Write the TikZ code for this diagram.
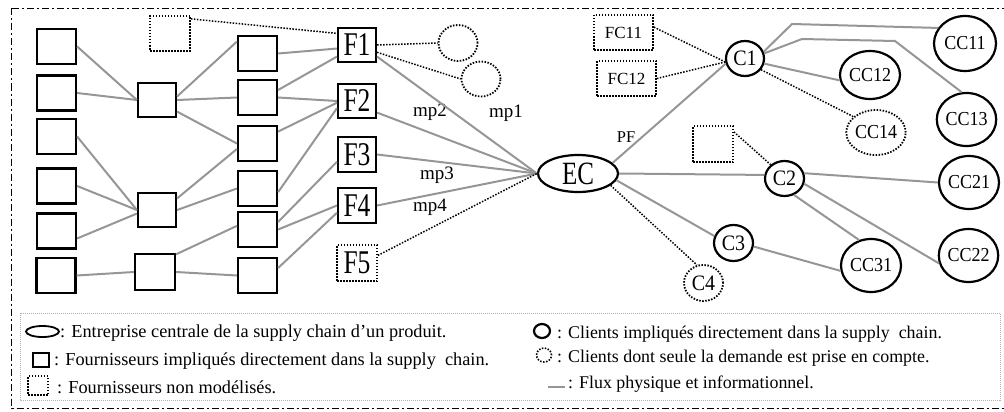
\documentclass[tikz,border=0pt]{standalone}
\usepackage{fontspec}
\setmainfont{Liberation Serif}
\usepackage{graphicx}
\usetikzlibrary{shapes.geometric}
\definecolor{fluxgray}{RGB}{150,150,150}
\newcommand\vst[2]{\scalebox{1}[#1]{#2}}
\begin{document}
\begin{tikzpicture}[x=1pt,y=-1pt,
  sq/.style={draw, rectangle, line width=2.2pt, inner sep=0pt, minimum width=39pt, minimum height=35pt},
  dsq/.style={draw, rectangle, line width=1.8pt, dash pattern=on 1.5pt off 1.5pt, inner sep=0pt, minimum width=40pt, minimum height=35pt},
  ell/.style={draw, ellipse, line width=2.2pt, inner sep=0pt},
  dell/.style={draw, ellipse, line width=1.8pt, dash pattern=on 1.5pt off 1.5pt, inner sep=0pt},
  flux/.style={draw=fluxgray, line width=2pt},
  dline/.style={draw=black, line width=1.5pt, dash pattern=on 1.5pt off 1.5pt},
  ffont/.style={font=\fontsize{25.5}{28}\selectfont},
  cfont/.style={font=\fontsize{20}{22}\selectfont},
  ccfont/.style={font=\fontsize{18}{20}\selectfont},
  fcfont/.style={font=\fontsize{17}{19}\selectfont},
  mpfont/.style={font=\fontsize{19}{21}\selectfont, inner sep=0pt},
  lgl/.style={font=\fontsize{18.3}{20}\selectfont, inner sep=0pt, anchor=base west},
  lgr/.style={font=\fontsize{17.9}{20}\selectfont, inner sep=0pt, anchor=base west}
]
\useasboundingbox (0,0) rectangle (1004,412);
% outer frame
\draw[line width=1.8pt, dash pattern=on 7pt off 3pt on 2pt off 3pt] (11.5,8.5) rectangle (1010,408.5);
% legend frame
\draw[gray!60, line width=0.8pt, dash pattern=on 1pt off 1pt] (20,313) rectangle (1000,400);

% left network
\node[sq] (L1) at (56.5,46.5) {};
\node[sq] (L2) at (56.5,93) {};
\node[sq] (L3) at (56.5,136.5) {};
\node[sq] (L4) at (56.5,186) {};
\node[sq] (L5) at (56.5,231) {};
\node[sq] (L6) at (56,275.5) {};
\node[sq, minimum width=38pt, minimum height=34pt] (m1) at (157,100) {};
\node[sq, minimum width=38pt, minimum height=34pt] (m2) at (157,210) {};
\node[sq, minimum width=40pt, minimum height=36pt] (m3) at (155,272) {};
\node[sq] (r1) at (257.5,53.5) {};
\node[sq] (r2) at (257.5,97.5) {};
\node[sq] (r3) at (257.5,143.5) {};
\node[sq] (r4) at (257.5,188.5) {};
\node[sq] (r5) at (257.5,229.5) {};
\node[sq] (r6) at (257.5,275.5) {};
\node[dsq] (T) at (170,33.5) {};

% F suppliers
\node[sq, ffont, minimum width=38pt, minimum height=34pt] (F1) at (357,45) {\vst{1.3}{F1}};
\node[sq, ffont, minimum width=38pt, minimum height=34pt] (F2) at (357,101) {\vst{1.3}{F2}};
\node[sq, ffont, minimum width=38pt, minimum height=35pt] (F3) at (357,154.5) {\vst{1.3}{F3}};
\node[sq, ffont, minimum width=38pt, minimum height=35pt] (F4) at (357,205.5) {\vst{1.3}{F4}};
\node[dsq, ffont, minimum width=40pt, minimum height=36pt] (F5) at (357,263) {\vst{1.3}{F5}};
\node[dell, minimum width=39pt, minimum height=36pt] (D1) at (458,43) {};
\node[dell, minimum width=39pt, minimum height=35pt] (D2) at (481,79) {};

% central
\node[ell, font=\fontsize{25}{28}\selectfont, minimum width=80pt, minimum height=37pt] (EC) at (578,173.5) {\vst{1.3}{EC}};

% right side
\node[dsq, fcfont, minimum width=59pt, minimum height=35pt] (FC11) at (623.5,32.5) {FC11};
\node[dsq, fcfont, minimum width=59pt, minimum height=35pt] (FC12) at (626.5,78.5) {FC12};
\node[dsq, minimum width=40pt, minimum height=36pt] (S) at (713,144) {};
\node[ell, cfont, minimum width=38pt, minimum height=35pt] (C1) at (745,58.5) {\vst{1.1}{C1}};
\node[ell, cfont, minimum width=39pt, minimum height=35pt] (C2) at (784.5,178.5) {\vst{1.1}{C2}};
\node[ell, cfont, minimum width=39pt, minimum height=36pt] (C3) at (733.5,243) {\vst{1.1}{C3}};
\node[dell, cfont, minimum width=39pt, minimum height=36pt] (C4) at (703.5,283) {\vst{1.1}{C4}};
\node[ell, ccfont, minimum width=62pt, minimum height=55pt] (CC11) at (965,43.5) {\vst{1.1}{CC11}};
\node[ell, ccfont, minimum width=60pt, minimum height=48pt] (CC12) at (870,75) {\vst{1.1}{CC12}};
\node[ell, ccfont, minimum width=59pt, minimum height=53pt] (CC13) at (966.5,119.5) {\vst{1.1}{CC13}};
\node[dell, ccfont, minimum width=50pt, minimum height=45pt] (CC14) at (876,132.5) {\vst{1.1}{CC14}};
\node[ell, ccfont, minimum width=60pt, minimum height=53pt] (CC21) at (969,182.5) {\vst{1.1}{CC21}};
\node[ell, ccfont, minimum width=60pt, minimum height=53pt] (CC31) at (871,265.5) {\vst{1.1}{CC31}};
\node[ell, ccfont, minimum width=59pt, minimum height=53pt] (CC22) at (968.5,255.5) {\vst{1.1}{CC22}};

% labels
\node[mpfont] (mp2) at (430,112) {mp2};
\node[mpfont] (mp1) at (506,113) {mp1};
\node[mpfont] (mp3) at (437,175) {mp3};
\node[mpfont] (mp4) at (430,207) {mp4};
\node[font=\fontsize{16.5}{18}\selectfont, inner sep=0pt] (PF) at (626,137) {PF};

% left network connectors
\draw[flux] (L1.east) -- (m1.west);
\draw[flux] (L2.east) -- (m1.west);
\draw[flux] (m1.10) -- (r1.150);
\draw[flux] (m1.east) -- (r2.west);
\draw[flux] (m1.-30) -- (r3.west);
\draw[flux] (L3.east) -- (m2.west);
\draw[flux] (L4.east) -- (m2.west);
\draw[flux] (L5.-20) -- (m2.-170);
\draw[flux] (m2.30) -- (r3.-165);
\draw[flux] (m2.east) -- (r4.west);
\draw[flux] (m3.40) -- (r5.170);
\draw[flux] (L6.east) -- (m3.west);
\draw[flux] (m3.east) -- (r6.west);
\draw[flux] (r1.east) -- (F1.-170);
\draw[flux] (r2.20) -- (F1.-150);
\draw[flux] (r2.east) -- (F2.west);
\draw[flux] (r3.30) -- (F2.-175);
\draw[flux] (r4.-10) -- (F2.-160);
\draw[flux] (r5.20) -- (F3.-160);
\draw[flux] (r5.east) -- (F4.west);
\draw[flux] (r6.20) -- (F4.-160);
\draw[dline] (T.35) -- (F1.150);

% F to EC
\draw[dline] (F1.east) -- (D1.west);
\draw[dline] (F1.-20) -- (D2.west);
\draw[flux] (F1.-30) -- (EC.west);
\draw[flux] (F2.-30) -- (EC.west);
\draw[flux] (F3.east) -- (EC.west);
\draw[flux] (F4.east) -- (EC.west);
\draw[dline] (F5.20) -- (EC.west);

% EC to clients
\draw[flux] (EC.17) -- (C1.-165);
\draw[flux] (EC.east) -- (C2.170);
\draw[flux] (EC.-10) -- (C3.160);
\draw[dline] (EC.-20) -- (C4.110);
\draw[dline] (FC11.10) -- (C1.-170);
\draw[dline] (FC12.east) -- (C1.-170);
\coordinate (b1) at (792,24);
\coordinate (b2) at (802,39);
\coordinate (b3) at (895,41);
\draw[flux] (C1.20) -- (b1) -- (CC11.150);
\draw[flux] (C1.15) -- (b2) -- (b3) -- (CC13.100);
\draw[flux] (C1.-15) -- (CC12.-170);
\draw[dline] (C1.-35) -- (CC14.145);
\draw[dline] (S.30) -- (C2.135);
\draw[flux] (C2.15) -- (CC21.west);
\draw[flux] (C2.-15) -- (CC22.-165);
\draw[flux] (C2.-60) -- (CC31.115);
\draw[flux] (C3.-10) -- (CC31.-170);

% legend
\node[ell, line width=1.8pt, minimum width=33pt, minimum height=11pt] (lgE) at (42.5,331.5) {};
\node[sq, line width=2pt, minimum width=16pt, minimum height=14pt] (lgS) at (41,360) {};
\node[dsq, line width=1.6pt, minimum width=20pt, minimum height=19pt] (lgD) at (38,385.5) {};
\node[ell, line width=2.2pt, minimum width=16pt, minimum height=14pt] (lgC) at (542,331) {};
\node[dell, line width=1.6pt, minimum width=15pt, minimum height=14pt] (lgDC) at (544,355) {};
\coordinate (lgF1) at (548,387);
\coordinate (lgF2) at (565,387);
\draw[fluxgray, line width=1.4pt] (lgF1) -- (lgF2);
\node[lgl] (t1) at (60,337.5) {: Entreprise centrale de la supply chain d’un produit.};
\node[lgl] (t2) at (54,365) {: Fournisseurs impliqués directement dans la supply\ \ chain.};
\node[lgl] (t3) at (57,393.5) {: Fournisseurs non modélisés.};
\node[lgr] (t4) at (557,338) {: Clients impliqués directement dans la supply\ \ chain.};
\node[lgr] (t5) at (557,362) {: Clients dont seule la demande est prise en compte.};
\node[lgr] (t6) at (568,388) {: Flux physique et informationnel.};
\end{tikzpicture}
\end{document}
